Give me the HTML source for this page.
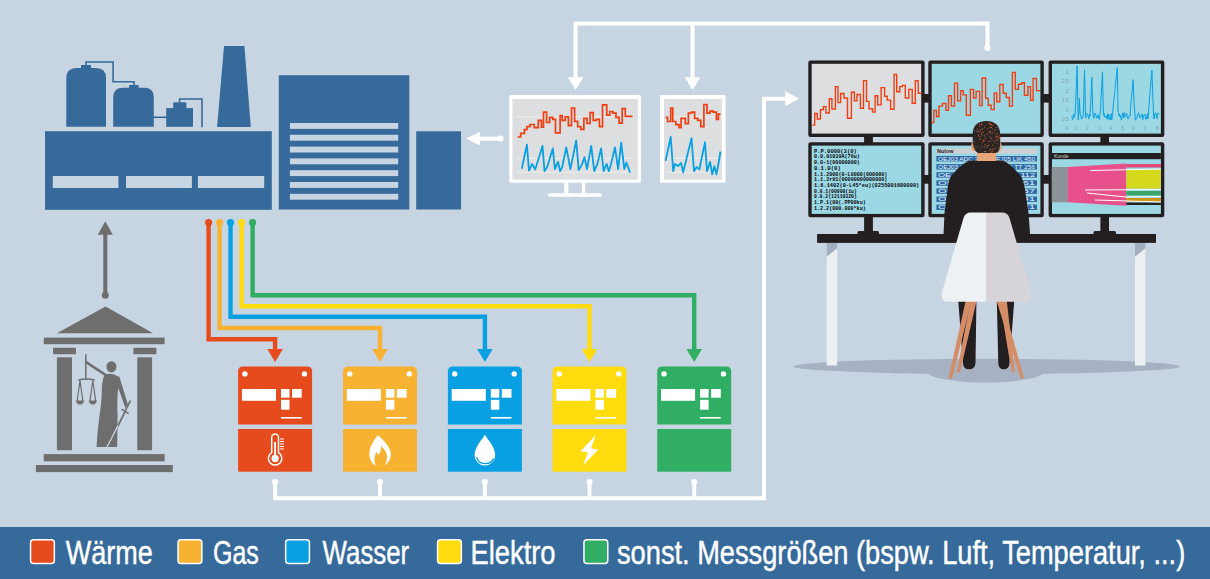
<!DOCTYPE html>
<html><head><meta charset="utf-8"><style>
html,body{margin:0;padding:0;background:#c7d4e2;}
body{width:1210px;height:579px;overflow:hidden;font-family:"Liberation Sans",sans-serif;}
svg{display:block}
</style></head><body>
<svg width="1210" height="579" viewBox="0 0 1210 579">
<rect width="1210" height="579" fill="#c7d4e2"/>
<g fill="#366a9a">
<path d="M66.3,126.8 L66.3,78 Q66.3,68 76.3,68 L96,68 Q106,68 106,78 L106,126.8 Z"/>
<rect x="81" y="65" width="10" height="4"/>
<path d="M113.2,126.8 L113.2,97.3 Q113.2,87.8 122.7,87.8 L144.3,87.8 Q153.8,87.8 153.8,97.3 L153.8,126.8 Z"/>
<rect x="129.1" y="85" width="9.6" height="4"/>
<rect x="166.2" y="108.1" width="26.8" height="18.7"/>
<rect x="173.2" y="102.3" width="13.1" height="7"/>
<path d="M224,46 L244.4,46 L250.8,127 L217.1,127 Z"/>
<rect x="45" y="131.2" width="226.8" height="78.6"/>
<rect x="278.8" y="75.2" width="130.5" height="134.3"/>
<rect x="416.2" y="131.3" width="44.8" height="78.2"/>
</g>
<g fill="none" stroke="#366a9a" stroke-width="1.6">
<polyline points="86,66 86,62 113.1,62 113.1,81.8 134,81.8 134,86"/>
<polyline points="153,117.3 167,117.3"/>
<polyline points="179.6,103 179.6,99 202,99 202,127.3"/>
</g>
<g fill="#c7d4e2">
<rect x="52.8" y="176" width="65.6" height="12"/>
<rect x="126" y="176" width="65.9" height="12"/>
<rect x="197.9" y="176" width="66.3" height="12"/>
<rect x="289.9" y="123.0" width="108.3" height="5.9"/>
<rect x="289.9" y="134.8" width="108.3" height="5.9"/>
<rect x="289.9" y="146.6" width="108.3" height="5.9"/>
<rect x="289.9" y="158.4" width="108.3" height="5.9"/>
<rect x="289.9" y="170.2" width="108.3" height="5.9"/>
<rect x="289.9" y="182.0" width="108.3" height="5.9"/>
<rect x="289.9" y="193.8" width="108.3" height="5.9"/>
</g>
<g fill="#6e6e6e">
<path d="M105.3,221.2 L112.8,234.7 L97.8,234.7 Z"/>
<rect x="103.3" y="232" width="4" height="63"/>
<circle cx="105.3" cy="295.3" r="3.5"/>
<path d="M105.5,306.4 L153.1,333.3 L56.9,333.3 Z"/>
<rect x="43.8" y="337.6" width="120.8" height="6.6"/>
<rect x="53" y="347.8" width="23" height="6.5" rx="1"/>
<rect x="133.4" y="347.8" width="23" height="6.5" rx="1"/>
<rect x="56.9" y="357.3" width="15.1" height="92.9"/>
<rect x="137.3" y="357.3" width="14.8" height="92.9"/>
<rect x="43.8" y="454.1" width="120.8" height="7.2"/>
<rect x="35.9" y="465" width="136.9" height="7.1"/>
<ellipse cx="111.4" cy="366.8" rx="5" ry="5.6"/>
<path d="M104.5,374.5 Q111,372 119.5,377 L122.8,388 L127.9,404.5 L125.3,408 L120.5,394 L118.2,388 Q116.8,400 117.6,415 L117.2,447 L96.5,447 Q97.5,430 99.6,415 Q101.6,402 101.8,392 Q101.6,382 104.5,374.5 Z"/>
</g>
<g stroke="#6e6e6e" fill="none">
<line x1="86.1" y1="362.1" x2="106.5" y2="375.5" stroke-width="2.6" stroke-linecap="round"/>
<line x1="85.8" y1="354.3" x2="85.8" y2="380" stroke-width="1.5"/>
<path d="M78.3,380 Q86,378 94.8,380" stroke-width="1.4"/>
<path d="M80,380.5 L77,402 M80,380.5 L83,402 M92.8,380.5 L89.8,402 M92.8,380.5 L95.8,402" stroke-width="1.2"/>
<line x1="125" y1="411.5" x2="130.4" y2="400.5" stroke-width="1.7"/>
<line x1="121.5" y1="409.2" x2="128.6" y2="413.6" stroke-width="1.5"/>
<line x1="125.4" y1="411" x2="117.4" y2="427" stroke-width="1.7"/>
</g>
<g fill="#6e6e6e"><path d="M76,400.5 L84,400.5 Q83.5,404.5 80,404.5 Q76.5,404.5 76,400.5 Z M88.8,400.5 L96.8,400.5 Q96.3,404.5 92.8,404.5 Q89.3,404.5 88.8,400.5 Z"/></g>
<line x1="118" y1="425.5" x2="106" y2="449" stroke="#c7d4e2" stroke-width="1.3"/>
<polyline points="208.6,222.5 208.6,339.2 275.1,339.2 275.1,350" fill="none" stroke="#e64b1e" stroke-width="4.4"/>
<circle cx="208.6" cy="222.5" r="3.6" fill="#e64b1e"/>
<path d="M267.3,349 L282.90000000000003,349 L275.1,362 Z" fill="#e64b1e"/>
<polyline points="219.6,222.5 219.6,328.0 380.0,328.0 380.0,350" fill="none" stroke="#f7b231" stroke-width="4.4"/>
<circle cx="219.6" cy="222.5" r="3.6" fill="#f7b231"/>
<path d="M372.2,349 L387.8,349 L380.0,362 Z" fill="#f7b231"/>
<polyline points="230.5,222.5 230.5,316.8 484.9,316.8 484.9,350" fill="none" stroke="#08a0e2" stroke-width="4.4"/>
<circle cx="230.5" cy="222.5" r="3.6" fill="#08a0e2"/>
<path d="M477.09999999999997,349 L492.7,349 L484.9,362 Z" fill="#08a0e2"/>
<polyline points="241.6,222.5 241.6,306.2 589.5,306.2 589.5,350" fill="none" stroke="#fedc0e" stroke-width="4.4"/>
<circle cx="241.6" cy="222.5" r="3.6" fill="#fedc0e"/>
<path d="M581.7,349 L597.3,349 L589.5,362 Z" fill="#fedc0e"/>
<polyline points="252.6,222.5 252.6,295.3 694.2,295.3 694.2,350" fill="none" stroke="#2fae64" stroke-width="4.4"/>
<circle cx="252.6" cy="222.5" r="3.6" fill="#2fae64"/>
<path d="M686.4000000000001,349 L702.0,349 L694.2,362 Z" fill="#2fae64"/>
<g transform="translate(238.1,0)">
<path d="M0,424.4 L0,371.6 Q0,366.6 5,366.6 L69,366.6 Q74,366.6 74,371.6 L74,424.4 Z" fill="#e64b1e"/>
<rect x="0" y="429" width="74" height="42.7" fill="#e64b1e"/>
<g fill="#fff">
<circle cx="6.8" cy="373.9" r="2.7"/><circle cx="66.3" cy="373.9" r="2.7"/>
<rect x="3.8" y="389" width="34.1" height="11.8"/>
<rect x="42.9" y="389" width="8.5" height="8.7"/>
<rect x="53.9" y="389" width="9.7" height="8.7"/>
<rect x="42.9" y="399.8" width="8.5" height="9.9"/>
<rect x="42.9" y="417" width="20.7" height="1.6"/>
</g>
<path fill="none" stroke="#fff" stroke-width="1.5" d="M33.6,452.6 L33.6,437.5 A3.4,3.4 0 0 1 40.4,437.5 L40.4,452.6 A6.7,6.7 0 1 1 33.6,452.6 Z"/>
<g fill="#fff"><circle cx="37" cy="458.4" r="3.6"/><rect x="36.1" y="442" width="1.8" height="15"/>
<rect x="42" y="438.50" width="3.8" height="1"/>
<rect x="42" y="440.98" width="3.8" height="1"/>
<rect x="42" y="443.46" width="3.8" height="1"/>
<rect x="42" y="445.94" width="3.8" height="1"/>
<rect x="42" y="448.42" width="3.8" height="1"/>
</g>
</g>
<g transform="translate(343.0,0)">
<path d="M0,424.4 L0,371.6 Q0,366.6 5,366.6 L69,366.6 Q74,366.6 74,371.6 L74,424.4 Z" fill="#f7b231"/>
<rect x="0" y="429" width="74" height="42.7" fill="#f7b231"/>
<g fill="#fff">
<circle cx="6.8" cy="373.9" r="2.7"/><circle cx="66.3" cy="373.9" r="2.7"/>
<rect x="3.8" y="389" width="34.1" height="11.8"/>
<rect x="42.9" y="389" width="8.5" height="8.7"/>
<rect x="53.9" y="389" width="9.7" height="8.7"/>
<rect x="42.9" y="399.8" width="8.5" height="9.9"/>
<rect x="42.9" y="417" width="20.7" height="1.6"/>
</g>
<path fill="#fff" d="M34.9,435.2 C31,440 27,446 26.5,452 C26,458 28,463 32.2,465.6 L41.3,465.6 C45.5,463 48.5,458 47.8,453 C47,447 41,440 34.9,435.2 Z"/>
<path fill="#f7b231" d="M32.8,467.5 L32.6,465.8 C30.8,462 31,457 33.3,452 L35.6,455 L37.5,451.6 L38.3,445.9 C41,449 44,452 44,456 C44.3,460 43,463 41,467.5 L32.8,467.5 Z"/>
</g>
<g transform="translate(447.9,0)">
<path d="M0,424.4 L0,371.6 Q0,366.6 5,366.6 L69,366.6 Q74,366.6 74,371.6 L74,424.4 Z" fill="#08a0e2"/>
<rect x="0" y="429" width="74" height="42.7" fill="#08a0e2"/>
<g fill="#fff">
<circle cx="6.8" cy="373.9" r="2.7"/><circle cx="66.3" cy="373.9" r="2.7"/>
<rect x="3.8" y="389" width="34.1" height="11.8"/>
<rect x="42.9" y="389" width="8.5" height="8.7"/>
<rect x="53.9" y="389" width="9.7" height="8.7"/>
<rect x="42.9" y="399.8" width="8.5" height="9.9"/>
<rect x="42.9" y="417" width="20.7" height="1.6"/>
</g>
<path fill="#fff" d="M37,434.8 C40,440 47.3,447 47.3,455.3 A10.3,10.3 0 0 1 26.7,455.3 C26.7,447 34,440 37,434.8 Z"/>
<path fill="none" stroke="#08a0e2" stroke-width="1.3" d="M28.6,457.3 C30,462 34,463.6 37.2,463.6 C41,463.6 44.5,461.5 45.5,458.5"/>
</g>
<g transform="translate(552.5,0)">
<path d="M0,424.4 L0,371.6 Q0,366.6 5,366.6 L69,366.6 Q74,366.6 74,371.6 L74,424.4 Z" fill="#fedc0e"/>
<rect x="0" y="429" width="74" height="42.7" fill="#fedc0e"/>
<g fill="#fff">
<circle cx="6.8" cy="373.9" r="2.7"/><circle cx="66.3" cy="373.9" r="2.7"/>
<rect x="3.8" y="389" width="34.1" height="11.8"/>
<rect x="42.9" y="389" width="8.5" height="8.7"/>
<rect x="53.9" y="389" width="9.7" height="8.7"/>
<rect x="42.9" y="399.8" width="8.5" height="9.9"/>
<rect x="42.9" y="417" width="20.7" height="1.6"/>
</g>
<path fill="#fff" d="M43.5,435 L27.9,451.2 L35.5,452.2 L30.5,465.3 L45.7,449.7 L38.5,448.2 Z"/>
</g>
<g transform="translate(657.2,0)">
<path d="M0,424.4 L0,371.6 Q0,366.6 5,366.6 L69,366.6 Q74,366.6 74,371.6 L74,424.4 Z" fill="#2fae64"/>
<rect x="0" y="429" width="74" height="42.7" fill="#2fae64"/>
<g fill="#fff">
<circle cx="6.8" cy="373.9" r="2.7"/><circle cx="66.3" cy="373.9" r="2.7"/>
<rect x="3.8" y="389" width="34.1" height="11.8"/>
<rect x="42.9" y="389" width="8.5" height="8.7"/>
<rect x="53.9" y="389" width="9.7" height="8.7"/>
<rect x="42.9" y="399.8" width="8.5" height="9.9"/>
<rect x="42.9" y="417" width="20.7" height="1.6"/>
</g>
</g>
<g fill="none" stroke="#fff" stroke-width="3.9">
<polyline points="275.1,482 275.1,498.2 764,498.2 764,98.7 787,98.7"/>
<line x1="380.0" y1="482" x2="380.0" y2="498.2"/>
<line x1="484.9" y1="482" x2="484.9" y2="498.2"/>
<line x1="589.5" y1="482" x2="589.5" y2="498.2"/>
<line x1="694.2" y1="482" x2="694.2" y2="498.2"/>
</g>
<g fill="#fff">
<circle cx="275.1" cy="482" r="3"/>
<circle cx="380.0" cy="482" r="3"/>
<circle cx="484.9" cy="482" r="3"/>
<circle cx="589.5" cy="482" r="3"/>
<circle cx="694.2" cy="482" r="3"/>
<path d="M785.1,91.2 L799.3,98.7 L785.1,106.3 Z"/>
</g>
<g fill="none" stroke="#fff" stroke-width="4">
<polyline points="575.5,80 575.5,23.5 987.5,23.5 987.5,47.8"/>
<line x1="692.5" y1="23.5" x2="692.5" y2="80"/>
<line x1="480" y1="138.6" x2="500" y2="138.6"/>
</g>
<g fill="#fff">
<path d="M567.8,77.2 L583.3,77.2 L575.5,90 Z"/>
<path d="M684.8,77.2 L700.3,77.2 L692.5,90 Z"/>
<circle cx="987.5" cy="47.8" r="3.2"/>
<path d="M466,138.6 L480,131.8 L480,145.4 Z"/>
<circle cx="500.5" cy="138.6" r="3"/>
</g>
<g fill="#fff">
<rect x="509.3" y="94.9" width="131.6" height="87.9" rx="1.5"/>
<rect x="660" y="94.9" width="65.6" height="87.9" rx="1.5"/>
<rect x="564.2" y="181" width="4.2" height="13"/>
<rect x="581.8" y="181" width="3.4" height="13"/>
<rect x="548.1" y="193.2" width="53.8" height="3.6" rx="1.5"/>
</g>
<rect x="512.4" y="99" width="125.4" height="80.6" fill="#dddee0"/>
<rect x="664" y="99" width="57.8" height="80.6" fill="#dddee0"/>
<g stroke="#f4f2ee" stroke-width="0.8">
<line x1="517" y1="116.9" x2="634" y2="116.9"/><line x1="517" y1="158.3" x2="634" y2="158.3"/><line x1="517" y1="172.2" x2="634" y2="172.2"/>
<line x1="666" y1="116.9" x2="720" y2="116.9"/><line x1="666" y1="158.3" x2="720" y2="158.3"/><line x1="666" y1="172.2" x2="720" y2="172.2"/>
</g>
<polyline fill="none" stroke="#ef3f12" stroke-width="1.7" points="517.6,137.0 520.7,137.0 520.7,133.4 524.4,133.4 524.4,129.7 526.9,129.7 526.9,126.6 530.0,126.6 530.0,124.5 534.2,124.5 534.2,127.6 538.3,127.6 538.3,120.4 541.4,120.4 541.4,127.2 543.5,127.2 543.5,112.1 546.6,112.1 546.6,122.5 549.7,122.5 549.7,117.3 552.8,117.3 552.8,119.4 555.5,119.4 555.5,132.8 560.1,132.8 560.1,115.6 562.2,115.6 562.2,120.4 565.3,120.4 565.3,116.9 568.4,116.9 568.4,125.6 571.5,125.6 571.5,108.0 574.6,108.0 574.6,121.4 577.7,121.4 577.7,126.6 580.8,126.6 580.8,129.3 583.9,129.3 583.9,118.3 587.0,118.3 587.0,123.5 590.1,123.5 590.1,112.7 593.2,112.7 593.2,120.4 596.3,120.4 596.3,119.4 599.4,119.4 599.4,126.6 602.5,126.6 602.5,104.9 606.7,104.9 606.7,115.2 609.8,115.2 609.8,111.5 612.9,111.5 612.9,113.1 616.0,113.1 616.0,117.3 619.1,117.3 619.1,123.1 622.2,123.1 622.2,108.6 625.3,108.6 625.3,116.3 628.4,116.3 628.4,116.3 632.6,116.3"/>
<polyline fill="none" stroke="#08a0e2" stroke-width="1.8" stroke-linejoin="round" points="521.8,168.7 526.9,144.6 529.0,170.7 532.1,163.9 535.2,169.5 542.5,145.9 544.5,171.2 547.2,167.0 552.8,148.4 554.9,169.1 558.0,161.8 560.1,171.2 562.2,167.0 566.3,147.3 570.4,169.1 576.2,140.5 578.7,170.1 581.8,164.9 584.5,157.1 587.0,169.1 591.2,145.9 594.3,171.2 597.4,163.9 601.1,148.4 603.6,171.2 606.7,163.9 608.8,171.2 610.8,164.9 615.0,147.3 618.1,169.1 621.2,142.6 624.3,169.1 626.4,162.5 630.1,172.8"/>
<polyline fill="none" stroke="#ef3f12" stroke-width="1.7" points="665.6,117.3 667.6,117.3 667.6,121.5 670.7,121.5 670.7,108.0 672.8,108.0 672.8,121.5 675.9,121.5 675.9,124.6 679.0,124.6 679.0,127.7 681.1,127.7 681.1,118.4 685.3,118.4 685.3,123.6 688.4,123.6 688.4,113.2 691.5,113.2 691.5,112.1 694.6,112.1 694.6,118.4 697.7,118.4 697.7,120.4 700.8,120.4 700.8,126.7 703.9,126.7 703.9,104.5 707.0,104.5 707.0,113.2 710.1,113.2 710.1,111.1 713.3,111.1 713.3,112.1 716.4,112.1 716.4,119.4 718.4,119.4 718.4,114.2 720.5,114.2"/>
<polyline fill="none" stroke="#08a0e2" stroke-width="1.8" stroke-linejoin="round" points="665.6,160.9 670.7,137.0 673.2,171.2 674.9,164.0 678.0,166.1 681.1,163.0 683.2,172.3 691.5,138.1 694.0,171.2 696.7,167.1 699.4,169.2 705.0,142.2 707.0,171.2 710.1,161.9 712.2,174.4 714.3,166.1 716.4,174.4 718.4,164.0 720.5,151.5"/>
<g fill="#a6b2c3"><ellipse cx="986.5" cy="366.4" rx="193" ry="7.6"/><ellipse cx="985.5" cy="371.5" rx="58.5" ry="11"/></g>
<rect x="826.7" y="242" width="10.4" height="123.5" fill="#edf0f1"/>
<path d="M826.7,242.5 L837.1,242.5 L837.1,248.2 L826.7,256.8 Z" fill="#a3aebf"/>
<rect x="1135" y="242" width="10.4" height="123.5" fill="#edf0f1"/>
<path d="M1135,242.5 L1145.4,242.5 L1145.4,248.2 L1135,256.8 Z" fill="#a3aebf"/>
<g fill="#231f20">
<rect x="923" y="94" width="7" height="8.6"/><rect x="1042.5" y="94" width="7" height="8.6"/>
<rect x="923" y="175" width="7" height="8.7"/><rect x="1042.5" y="175" width="7" height="8.7"/>
<rect x="864.1" y="135" width="8.8" height="8"/><rect x="1100.4" y="135" width="8.6" height="8"/>
<rect x="864.1" y="215" width="8.8" height="17"/><rect x="1100.4" y="215" width="8.6" height="17"/>
<rect x="857.5" y="231" width="21.5" height="4" rx="1.5"/><rect x="1093.5" y="231" width="22.5" height="4" rx="1.5"/>
<rect x="808.3" y="60.4" width="116.3" height="76.6" rx="2.2"/>
<rect x="928.3" y="60.4" width="115.5" height="76.6" rx="2.2"/>
<rect x="1048.6" y="60.4" width="115.7" height="76.6" rx="2.2"/>
<rect x="808.3" y="142.2" width="116.3" height="75.1" rx="2.2"/>
<rect x="928.3" y="142.2" width="115.5" height="75.1" rx="2.2"/>
<rect x="1048.6" y="142.2" width="115.7" height="75.1" rx="2.2"/>
</g>
<rect x="811.7" y="63.8" width="109.5" height="69.8" fill="#dddee0"/>
<rect x="931.7" y="63.8" width="108.7" height="69.8" fill="#9cd7e4"/>
<rect x="1052.0" y="63.8" width="108.9" height="69.8" fill="#9cd7e4"/>
<rect x="811.7" y="145.6" width="109.5" height="68.3" fill="#9cd7e4"/>
<rect x="931.7" y="145.6" width="108.7" height="68.3" fill="#9cd7e4"/>
<rect x="1052.0" y="145.6" width="108.9" height="68.3" fill="#9cd7e4"/>
<polyline fill="none" stroke="#ef3f12" stroke-width="1.4" points="812.4,125.1 814.7,125.1 814.7,113.5 817.3,113.5 817.3,119.0 820.4,119.0 820.4,109.6 823.3,109.6 823.3,106.6 825.9,106.6 825.9,113.0 829.3,113.0 829.3,98.7 831.9,98.7 831.9,109.0 835.4,109.0 835.4,86.6 838.0,86.6 838.0,102.6 840.6,102.6 840.6,93.5 844.0,93.5 844.0,98.0 847.5,98.0 847.5,118.2 851.4,118.2 851.4,92.3 854.4,92.3 854.4,100.9 857.0,100.9 857.0,94.5 860.4,94.5 860.4,108.3 863.5,108.3 863.5,80.6 866.5,80.6 866.5,101.4 869.0,101.4 869.0,108.7 872.5,108.7 872.5,112.1 875.1,112.1 875.1,95.7 877.7,95.7 877.7,104.9 881.1,104.9 881.1,87.6 884.6,87.6 884.6,96.3 887.2,96.3 887.2,100.1 890.6,100.1 890.6,109.2 894.1,109.2 894.1,74.5 896.7,74.5 896.7,91.8 899.8,91.8 899.8,86.6 902.4,86.6 902.4,85.4 905.3,85.4 905.3,98.0 908.8,98.0 908.8,89.4 912.2,89.4 912.2,103.2 915.3,103.2 915.3,80.7 918.2,80.7 918.2,93.2 921.7,93.2"/>
<polyline fill="none" stroke="#ef3f12" stroke-width="1.4" points="931.7,122.5 933.8,122.5 933.8,110.4 936.4,110.4 936.4,116.5 939.0,116.5 939.0,106.1 942.4,106.1 942.4,103.5 945.9,103.5 945.9,110.4 948.5,110.4 948.5,95.7 951.4,95.7 951.4,106.1 954.5,106.1 954.5,83.1 957.6,83.1 957.6,100.9 960.6,100.9 960.6,90.6 963.2,90.6 963.2,94.9 966.3,94.9 966.3,115.3 970.4,115.3 970.4,89.4 973.5,89.4 973.5,98.0 976.1,98.0 976.1,91.4 979.6,91.4 979.6,105.6 982.1,105.6 982.1,78.0 985.6,78.0 985.6,98.3 988.2,98.3 988.2,105.2 991.1,105.2 991.1,109.6 994.2,109.6 994.2,93.2 996.8,93.2 996.8,101.8 999.8,101.8 999.8,84.5 1003.2,84.5 1003.2,93.2 1006.3,93.2 1006.3,97.5 1009.4,97.5 1009.4,106.1 1012.4,106.1 1012.4,72.4 1015.3,72.4 1015.3,89.4 1018.4,89.4 1018.4,84.2 1021.8,84.2 1021.8,82.8 1024.4,82.8 1024.4,95.2 1027.9,95.2 1027.9,86.6 1030.5,86.6 1030.5,100.4 1033.1,100.4 1033.1,78.5 1036.5,78.5 1036.5,90.6 1040.0,90.6"/>
<polyline fill="none" stroke="#08a0e2" stroke-width="1" stroke-linejoin="round" points="1071.9,116.1 1072.6,119.7 1073.2,116.5 1073.8,114.1 1074.4,117.4 1075.1,113.4 1075.6,106.1 1076.3,88.3 1077.0,68.7 1077.1,65.9 1077.5,83.0 1078.2,120.0 1078.9,112.6 1079.4,101.8 1079.4,98.5 1080.0,111.9 1080.5,114.5 1080.9,116.2 1081.5,119.1 1082.1,117.5 1082.7,117.7 1083.3,114.8 1084.1,86.9 1084.5,69.9 1084.9,84.9 1085.6,118.0 1086.1,114.4 1086.7,113.2 1087.4,115.7 1088.1,115.6 1088.8,119.1 1089.3,114.3 1090.0,116.2 1090.8,101.5 1091.3,90.8 1091.8,77.3 1091.9,81.6 1092.6,106.3 1093.1,115.2 1093.8,118.4 1094.3,114.5 1094.8,113.1 1095.5,114.0 1096.1,116.1 1096.6,118.2 1097.1,117.6 1097.5,115.9 1098.0,114.7 1098.8,118.8 1099.4,119.4 1099.9,115.7 1100.6,108.1 1101.0,98.4 1101.8,84.1 1102.3,74.8 1102.5,71.8 1102.8,87.2 1103.5,115.2 1104.1,113.2 1104.5,117.1 1105.1,117.2 1105.6,116.1 1106.4,116.3 1107.0,119.2 1107.5,113.8 1108.2,118.9 1108.8,114.1 1109.5,119.8 1110.0,119.9 1110.7,117.2 1111.3,113.5 1111.7,120.0 1112.2,117.4 1112.7,113.4 1113.4,103.3 1113.9,100.2 1114.6,93.8 1115.0,89.5 1115.5,84.7 1116.1,78.8 1116.9,72.0 1117.3,67.6 1117.5,77.8 1118.0,110.9 1118.5,112.8 1119.1,116.0 1119.5,114.0 1120.1,117.0 1120.6,115.4 1121.3,120.1 1122.0,117.9 1122.6,113.7 1123.0,112.8 1123.8,118.0 1124.5,112.8 1125.2,116.3 1125.9,115.1 1126.7,113.2 1127.3,118.3 1128.0,118.3 1128.7,118.7 1129.4,115.3 1130.1,115.9 1130.8,104.4 1131.5,97.5 1132.3,89.7 1132.9,83.0 1133.2,79.7 1133.5,88.6 1134.1,104.2 1134.8,113.3 1135.4,120.2 1136.1,118.2 1136.7,118.2 1137.3,116.0 1138.1,113.3 1138.8,112.9 1139.4,116.3 1139.9,118.0 1140.5,117.3 1141.3,114.6 1141.7,114.9 1142.4,114.2 1142.8,119.5 1143.5,116.0 1144.2,115.1 1144.9,114.2 1145.5,118.8 1146.2,119.3 1146.8,117.1 1147.3,113.7 1147.9,119.0 1148.7,110.7 1149.4,99.9 1150.0,93.5 1150.4,87.6 1151.0,80.4 1151.6,74.0 1151.9,70.4 1152.1,75.8 1152.6,91.1 1153.3,108.4 1153.8,119.0 1154.6,116.1 1155.1,112.9 1155.8,113.0 1156.5,117.0 1157.0,118.7 1157.4,113.7 1158.0,112.8 1158.7,114.5"/>
<g fill="#7f98a6" font-family="Liberation Sans, sans-serif" font-size="4.5">
<text x="1068.5" y="73.9" text-anchor="end">3</text>
<text x="1068.5" y="83.4" text-anchor="end">2.5</text>
<text x="1068.5" y="92.9" text-anchor="end">2</text>
<text x="1068.5" y="102.4" text-anchor="end">1.5</text>
<text x="1068.5" y="111.9" text-anchor="end">1</text>
<text x="1068.5" y="121.4" text-anchor="end">0.5</text>
<text x="1066.8" y="130.0" text-anchor="middle">0</text>
<text x="1076.3" y="130.0" text-anchor="middle">1</text>
<text x="1087.5" y="130.0" text-anchor="middle">2</text>
<text x="1099.6" y="130.0" text-anchor="middle">3</text>
<text x="1110.8" y="130.0" text-anchor="middle">4</text>
<text x="1122.5" y="130.0" text-anchor="middle">5</text>
<text x="1133.6" y="130.0" text-anchor="middle">6</text>
<text x="1145.0" y="130.0" text-anchor="middle">7</text>
<text x="1157.0" y="130.0" text-anchor="middle">8</text>
</g>
<g fill="#05070a" font-family="Liberation Mono, monospace" font-size="5.6" font-weight="bold">
<text x="813.9" y="152.5" textLength="42.9" lengthAdjust="spacingAndGlyphs">P.P.0000(3(0)</text>
<text x="813.9" y="158.2" textLength="46.0" lengthAdjust="spacingAndGlyphs">0.0.01039A(76u)</text>
<text x="813.9" y="164.0" textLength="46.0" lengthAdjust="spacingAndGlyphs">0.0-1(00000000)</text>
<text x="813.9" y="169.6" textLength="26.9" lengthAdjust="spacingAndGlyphs">0.1.0(0)</text>
<text x="813.9" y="175.5" textLength="73.5" lengthAdjust="spacingAndGlyphs">1.1.2000(0-L0000(000000)</text>
<text x="813.9" y="181.2" textLength="73.5" lengthAdjust="spacingAndGlyphs">1.1.2r91(00000000000000)</text>
<text x="813.9" y="186.7" textLength="105.4" lengthAdjust="spacingAndGlyphs">1.6.1402(0-L45*eu)(0255001600000)</text>
<text x="813.9" y="192.6" textLength="42.9" lengthAdjust="spacingAndGlyphs">0.9.1(00000(1u)</text>
<text x="813.9" y="198.2" textLength="42.9" lengthAdjust="spacingAndGlyphs">0.9.2(12110320)</text>
<text x="813.9" y="204.4" textLength="51.9" lengthAdjust="spacingAndGlyphs">1.P.1(00(.PP00ku)</text>
<text x="813.9" y="210.0" textLength="51.9" lengthAdjust="spacingAndGlyphs">1.2.2(000.000*ku)</text>
</g>
<rect x="936.4" y="148.5" width="100.6" height="5.1" fill="#cdd0d2"/>
<text x="937" y="153.2" font-family="Liberation Sans, sans-serif" font-size="5.5" font-weight="bold" fill="#1d1d1d">Nulow</text>
<g fill="#2c68a6">
<rect x="936.4" y="156.0" width="100.6" height="5.4"/>
<rect x="936.4" y="164.1" width="100.6" height="5.4"/>
<rect x="936.4" y="172.2" width="100.6" height="5.4"/>
<rect x="936.4" y="180.3" width="100.6" height="5.4"/>
<rect x="936.4" y="188.4" width="100.6" height="5.4"/>
<rect x="936.4" y="196.5" width="100.6" height="5.4"/>
<rect x="936.4" y="204.6" width="100.6" height="5.4"/>
</g>
<g fill="#e8f0f6" font-family="Liberation Sans, sans-serif" font-size="5">
<text x="938" y="160.6" textLength="97" lengthAdjust="spacingAndGlyphs">OEJ03 ADC 21 ... OEJ05 LIK 450</text>
<text x="938" y="168.7" textLength="97" lengthAdjust="spacingAndGlyphs">OEJ03 DEC 25 ... OEJ05 TT 256</text>
<text x="938" y="176.8" textLength="97" lengthAdjust="spacingAndGlyphs">OEJ04 ........... OBF 112</text>
<text x="938" y="184.9" textLength="97" lengthAdjust="spacingAndGlyphs">OEJ04 ............ 561</text>
<text x="938" y="193.0" textLength="97" lengthAdjust="spacingAndGlyphs">OEJ05 ............. 237</text>
<text x="938" y="201.1" textLength="97" lengthAdjust="spacingAndGlyphs">OEJ05 ............. 141</text>
<text x="938" y="209.2" textLength="97" lengthAdjust="spacingAndGlyphs">OEJ06 ............. 221</text>
</g>
<rect x="1052" y="153" width="108.9" height="6.2" fill="#231f20"/>
<text x="1054" y="158.2" font-family="Liberation Sans, sans-serif" font-size="5" fill="#d0d0d0">Kunde</text>
<rect x="1051.7" y="167" width="15.9" height="35.3" fill="#8a9498"/>
<path d="M1067.6,167 L1126.3,163.5 L1126.3,205.8 L1067.6,202.3 Z" fill="#e7508a"/>
<rect x="1126.3" y="164" width="34.6" height="3.5" fill="#e24a7a"/>
<rect x="1126.3" y="169.5" width="34.6" height="19" fill="#d4d91c"/>
<rect x="1126.3" y="191" width="34.6" height="4.5" fill="#3aa569"/>
<rect x="1126.3" y="198" width="34.6" height="3.7" fill="#cc9516"/>
<rect x="1126.3" y="202.5" width="34.6" height="2.5" fill="#222"/>
<g stroke="#fff" stroke-width="1" fill="none"><path d="M1090,170.5 L1161,169"/><path d="M1085,190 L1161,189.5"/><path d="M1087,193 L1126,197 L1161,196.5"/><path d="M1095,200 L1161,202"/></g>
<path fill="#231f20" d="M970,160.5 L1002.6,160.5 C1009,163 1015,169 1020,175 C1023,179 1024,183 1025,190 L1028.5,212.7 L1030.5,240 L943.3,240 L944.5,212.7 L947.5,190 C948,183 949,179 952,175 C957,169 963,163 970,160.5 Z"/>
<rect x="977" y="146" width="19.2" height="15" fill="#e6a67a"/>
<ellipse cx="973.5" cy="146.5" rx="2.3" ry="4.8" fill="#e6a67a"/><ellipse cx="999.3" cy="146.5" rx="2.3" ry="4.8" fill="#e6a67a"/>
<path fill="#2b2624" d="M972.6,135 Q972.6,121 986.4,121 Q1000.2,121 1000.2,135 L1000.2,144 Q1000,151 997,153 L978,153 Q974,151 972.8,144 Z"/>
<clipPath id="hc"><path d="M972.6,135 Q972.6,121 986.4,121 Q1000.2,121 1000.2,135 L1000.2,144 Q1000,151 997,153 L978,153 Q974,151 972.8,144 Z"/></clipPath>
<g clip-path="url(#hc)" fill="#ee5a2a"><rect x="979.4" y="138.9" width="0.9" height="0.9"/><rect x="983.0" y="140.7" width="0.9" height="0.9"/><rect x="989.9" y="124.0" width="0.9" height="0.9"/><rect x="973.4" y="148.0" width="0.9" height="0.9"/><rect x="980.0" y="129.3" width="0.9" height="0.9"/><rect x="999.9" y="136.6" width="0.9" height="0.9"/><rect x="995.6" y="136.8" width="0.9" height="0.9"/><rect x="990.3" y="126.7" width="0.9" height="0.9"/><rect x="990.1" y="148.9" width="0.9" height="0.9"/><rect x="987.1" y="145.0" width="0.9" height="0.9"/><rect x="991.1" y="124.0" width="0.9" height="0.9"/><rect x="993.5" y="140.3" width="0.9" height="0.9"/><rect x="981.1" y="123.0" width="0.9" height="0.9"/><rect x="996.4" y="136.7" width="0.9" height="0.9"/><rect x="992.4" y="149.2" width="0.9" height="0.9"/><rect x="992.3" y="150.6" width="0.9" height="0.9"/><rect x="983.7" y="146.8" width="0.9" height="0.9"/><rect x="985.0" y="151.0" width="0.9" height="0.9"/><rect x="996.7" y="125.0" width="0.9" height="0.9"/><rect x="976.7" y="128.7" width="0.9" height="0.9"/><rect x="999.1" y="135.5" width="0.9" height="0.9"/><rect x="989.9" y="131.3" width="0.9" height="0.9"/><rect x="986.7" y="134.0" width="0.9" height="0.9"/><rect x="982.5" y="140.1" width="0.9" height="0.9"/><rect x="988.8" y="150.0" width="0.9" height="0.9"/><rect x="991.4" y="150.8" width="0.9" height="0.9"/><rect x="996.1" y="152.7" width="0.9" height="0.9"/><rect x="991.1" y="127.1" width="0.9" height="0.9"/><rect x="996.2" y="151.9" width="0.9" height="0.9"/><rect x="997.4" y="139.6" width="0.9" height="0.9"/><rect x="992.3" y="128.5" width="0.9" height="0.9"/><rect x="995.5" y="139.8" width="0.9" height="0.9"/><rect x="980.7" y="124.0" width="0.9" height="0.9"/><rect x="996.1" y="152.7" width="0.9" height="0.9"/><rect x="975.4" y="146.8" width="0.9" height="0.9"/><rect x="984.1" y="126.7" width="0.9" height="0.9"/><rect x="980.9" y="145.8" width="0.9" height="0.9"/><rect x="996.6" y="123.4" width="0.9" height="0.9"/><rect x="989.6" y="123.4" width="0.9" height="0.9"/><rect x="992.4" y="132.3" width="0.9" height="0.9"/><rect x="996.8" y="152.4" width="0.9" height="0.9"/><rect x="986.6" y="153.0" width="0.9" height="0.9"/><rect x="981.4" y="124.4" width="0.9" height="0.9"/><rect x="989.2" y="123.0" width="0.9" height="0.9"/><rect x="978.3" y="134.6" width="0.9" height="0.9"/><rect x="989.5" y="126.8" width="0.9" height="0.9"/><rect x="974.1" y="148.9" width="0.9" height="0.9"/><rect x="981.5" y="151.7" width="0.9" height="0.9"/><rect x="997.2" y="133.7" width="0.9" height="0.9"/><rect x="985.4" y="138.1" width="0.9" height="0.9"/><rect x="990.4" y="140.5" width="0.9" height="0.9"/><rect x="988.1" y="141.2" width="0.9" height="0.9"/><rect x="998.4" y="137.7" width="0.9" height="0.9"/><rect x="984.6" y="144.3" width="0.9" height="0.9"/><rect x="979.4" y="131.3" width="0.9" height="0.9"/><rect x="999.4" y="138.2" width="0.9" height="0.9"/><rect x="987.8" y="122.4" width="0.9" height="0.9"/><rect x="984.2" y="140.0" width="0.9" height="0.9"/><rect x="973.5" y="141.1" width="0.9" height="0.9"/><rect x="990.1" y="123.9" width="0.9" height="0.9"/><rect x="989.9" y="136.5" width="0.9" height="0.9"/><rect x="991.3" y="132.9" width="0.9" height="0.9"/><rect x="992.1" y="144.9" width="0.9" height="0.9"/><rect x="973.6" y="123.9" width="0.9" height="0.9"/><rect x="991.3" y="151.9" width="0.9" height="0.9"/><rect x="979.8" y="136.1" width="0.9" height="0.9"/><rect x="989.0" y="131.9" width="0.9" height="0.9"/><rect x="982.8" y="131.7" width="0.9" height="0.9"/><rect x="983.0" y="140.5" width="0.9" height="0.9"/><rect x="981.1" y="133.7" width="0.9" height="0.9"/><rect x="993.9" y="122.8" width="0.9" height="0.9"/><rect x="988.4" y="144.8" width="0.9" height="0.9"/><rect x="981.4" y="128.9" width="0.9" height="0.9"/><rect x="994.7" y="129.4" width="0.9" height="0.9"/><rect x="978.1" y="135.5" width="0.9" height="0.9"/><rect x="991.8" y="125.2" width="0.9" height="0.9"/><rect x="981.7" y="132.3" width="0.9" height="0.9"/><rect x="995.5" y="135.6" width="0.9" height="0.9"/><rect x="996.1" y="127.2" width="0.9" height="0.9"/><rect x="982.1" y="142.2" width="0.9" height="0.9"/><rect x="996.9" y="136.0" width="0.9" height="0.9"/><rect x="979.1" y="125.7" width="0.9" height="0.9"/><rect x="987.3" y="127.9" width="0.9" height="0.9"/><rect x="994.8" y="148.0" width="0.9" height="0.9"/><rect x="978.0" y="130.6" width="0.9" height="0.9"/></g>
<g clip-path="url(#hc)" fill="#9aa0a8"><rect x="994.8" y="141.9" width="0.7" height="0.7"/><rect x="994.8" y="132.7" width="0.7" height="0.7"/><rect x="976.5" y="131.1" width="0.7" height="0.7"/><rect x="994.4" y="130.4" width="0.7" height="0.7"/><rect x="982.4" y="134.9" width="0.7" height="0.7"/><rect x="984.3" y="134.7" width="0.7" height="0.7"/><rect x="997.9" y="126.8" width="0.7" height="0.7"/><rect x="973.1" y="151.2" width="0.7" height="0.7"/><rect x="996.8" y="152.6" width="0.7" height="0.7"/><rect x="984.7" y="151.5" width="0.7" height="0.7"/><rect x="998.0" y="128.9" width="0.7" height="0.7"/><rect x="993.1" y="147.9" width="0.7" height="0.7"/><rect x="990.9" y="138.1" width="0.7" height="0.7"/><rect x="980.8" y="132.6" width="0.7" height="0.7"/><rect x="979.1" y="124.1" width="0.7" height="0.7"/><rect x="988.9" y="130.9" width="0.7" height="0.7"/><rect x="994.9" y="123.4" width="0.7" height="0.7"/><rect x="997.4" y="143.5" width="0.7" height="0.7"/><rect x="997.9" y="149.8" width="0.7" height="0.7"/><rect x="997.3" y="139.9" width="0.7" height="0.7"/><rect x="973.4" y="145.1" width="0.7" height="0.7"/><rect x="977.6" y="131.3" width="0.7" height="0.7"/><rect x="990.9" y="138.3" width="0.7" height="0.7"/><rect x="984.2" y="151.1" width="0.7" height="0.7"/><rect x="989.5" y="132.6" width="0.7" height="0.7"/><rect x="979.8" y="148.7" width="0.7" height="0.7"/><rect x="985.9" y="146.3" width="0.7" height="0.7"/><rect x="982.5" y="128.1" width="0.7" height="0.7"/><rect x="987.4" y="147.3" width="0.7" height="0.7"/><rect x="977.6" y="146.5" width="0.7" height="0.7"/><rect x="997.9" y="147.0" width="0.7" height="0.7"/><rect x="995.2" y="122.2" width="0.7" height="0.7"/><rect x="990.0" y="148.7" width="0.7" height="0.7"/><rect x="974.3" y="130.4" width="0.7" height="0.7"/><rect x="980.3" y="138.3" width="0.7" height="0.7"/><rect x="984.4" y="136.7" width="0.7" height="0.7"/><rect x="994.0" y="122.1" width="0.7" height="0.7"/><rect x="974.5" y="125.9" width="0.7" height="0.7"/><rect x="976.4" y="124.1" width="0.7" height="0.7"/><rect x="999.3" y="148.5" width="0.7" height="0.7"/></g>
<g fill="#231f20"><path d="M957.9,296 L976.5,296 L975.5,363 Q975,369.3 969,369.3 Q963.3,369.3 963,363 Z"/><path d="M996.7,296 L1014.6,296 L1009.5,363 Q1009,369.3 1003.7,369.3 Q998.5,369.3 998.3,363 Z"/></g>
<g fill="#d48d66"><path d="M965.6,301 L971.5,301 L952,378.5 L948.5,378.5 Z"/><path d="M970.5,301 L976.5,301 L960,372.5 L956.8,372.5 Z"/><path d="M996.7,301 L1002.4,301 L1024,378.3 L1020.6,378.3 Z"/><path d="M999.8,301 L1006.8,301 L1014.8,372 L1011.6,372 Z"/></g>
<rect x="817.1" y="234" width="338.9" height="8.9" fill="#231f20"/>
<path fill="#edf1f3" d="M986,212.4 L971,212.4 Q965,212.4 963.5,218 L942,292 Q940,301.8 948,301.8 L986,301.8 Z"/>
<path fill="#d6d4d8" d="M986,212.4 L1002,212.4 Q1008,212.4 1009.5,218 L1031,292 Q1032.5,301.8 1024,301.8 L986,301.8 Z"/>
<rect x="0" y="527" width="1210" height="52" fill="#366a9a"/>
<rect x="30.55" y="539.75" width="23.8" height="23.8" rx="3" fill="#e64b1e" stroke="#fff" stroke-width="1.5"/>
<rect x="178.05" y="539.75" width="23.8" height="23.8" rx="3" fill="#f7b231" stroke="#fff" stroke-width="1.5"/>
<rect x="285.65" y="539.75" width="23.8" height="23.8" rx="3" fill="#08a0e2" stroke="#fff" stroke-width="1.5"/>
<rect x="437.55" y="539.75" width="23.8" height="23.8" rx="3" fill="#fedc0e" stroke="#fff" stroke-width="1.5"/>
<rect x="583.95" y="539.75" width="23.8" height="23.8" rx="3" fill="#2fae64" stroke="#fff" stroke-width="1.5"/>
<g fill="#fff" stroke="#fff" stroke-width="0.45" font-family="Liberation Sans, sans-serif" font-size="34">
<text x="65.7" y="564.2" textLength="87.0" lengthAdjust="spacingAndGlyphs">Wärme</text>
<text x="213" y="564.2" textLength="45.8" lengthAdjust="spacingAndGlyphs">Gas</text>
<text x="322.6" y="564.2" textLength="86.6" lengthAdjust="spacingAndGlyphs">Wasser</text>
<text x="470.4" y="564.2" textLength="85.2" lengthAdjust="spacingAndGlyphs">Elektro</text>
<text x="617" y="564.2" textLength="568.2" lengthAdjust="spacingAndGlyphs">sonst. Messgrößen (bspw. Luft, Temperatur, ...)</text>
</g>
</svg>
</body></html>
